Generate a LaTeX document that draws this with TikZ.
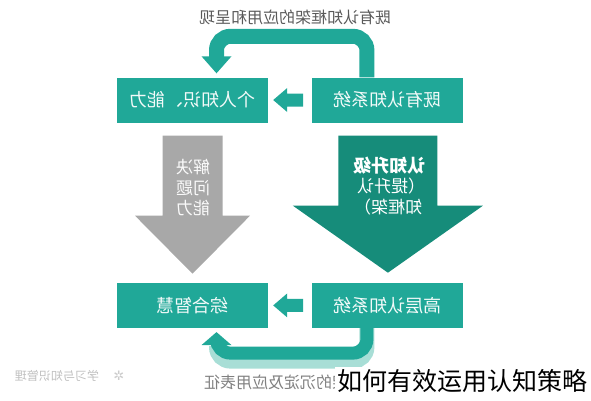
\documentclass[tikz,border=0pt]{standalone}
\usepackage{fontspec}
\setmainfont{Noto Sans CJK SC}
\newfontfamily\symfont{DejaVu Sans}
\usetikzlibrary{positioning,calc}
\definecolor{boxteal}{RGB}{32,168,152}
\definecolor{deepteal}{RGB}{22,140,122}
\definecolor{shadeteal}{RGB}{168,222,214}
\definecolor{arrowgray}{RGB}{168,168,168}
\newcommand{\flip}[1]{\scalebox{-1}[1]{#1}}

\begin{document}
\begin{tikzpicture}[x=1pt,y=-1pt, every node/.style={inner sep=0pt},
  box/.style={fill=boxteal,minimum width=151pt,minimum height=45pt,text=white!94!boxteal,font=\fontsize{18}{20}\selectfont},
  caption/.style={font=\fontsize{16}{18}\selectfont}]
\useasboundingbox (0,0) rectangle (591,400);
\node[box] (know) at (192.5,100) {\flip{个人知识、能力}};
\node[box,right=44pt of know] (oldsys) {\flip{既有认知系统}};
\node[box,below=160pt of know] (wisdom) {\flip{综合智慧}};
\node[box,right=44pt of wisdom] (highsys) {\flip{高层认知系统}};
\node[caption,text=black!65] (toptext) at (295,17) {\flip{既有认知框架的应用和呈现}};
\node[caption,text=black!50] (bottext) at (300,382) {\flip{认知框架的沉淀及应用表征}};
\fill[boxteal] ($(oldsys.west)+(-9,-6.5)$) -- ++(-16,0) -- ++(0,-5.5) -- ++(-14,12) -- ++(14,12) -- ++(0,-5.5) -- ++(16,0) -- cycle;
\fill[boxteal] ($(highsys.west)+(-9,-6.5)$) -- ++(-16,0) -- ++(0,-5.5) -- ++(-14,12) -- ++(14,12) -- ++(0,-5.5) -- ++(16,0) -- cycle;
\fill[arrowgray] ($(know.south)+(-30,13)$) -- ($(know.south)+(30,13)$) -- ($(know.south)+(30,93)$) -- ($(know.south)+(57.5,93)$) -- ($(know.south)+(0,151)$) -- ($(know.south)+(-57.5,93)$) -- ($(know.south)+(-30,93)$) -- cycle;
\fill[deepteal] ($(oldsys.south)+(-49.5,13)$) -- ($(oldsys.south)+(49.5,13)$) -- ($(oldsys.south)+(49.5,83)$) -- ($(oldsys.south)+(95,83)$) -- ($(oldsys.south)+(0,150)$) -- ($(oldsys.south)+(-95,83)$) -- ($(oldsys.south)+(-49.5,83)$) -- cycle;
\node[text=white!94!arrowgray,font=\fontsize{17}{20}\selectfont,align=center] (solve) at (193,190) {\flip{\begin{tabular}{@{}c@{}}解决\\问题\\能力\end{tabular}}};
\node[text=white,font=\fontsize{17}{19}\selectfont] (upgrade) at (389,188) {\flip{\begin{tabular}{@{}l@{}}\textbf{\fontsize{18}{19}\selectfont 认知升级}\\（提升认\\\,知框架）\end{tabular}}};
\draw[boxteal,line width=15pt,rounded corners=14pt] ($(oldsys.north)+(-21,0)$) -- ++(0,-41) -| ($(know.north)+(24,-20)$);
\fill[boxteal] ($(know.north)+(9,-21)$) -- ++(30,0) -- ($(know.north)+(24,-4)$) -- cycle;
\draw[shadeteal,line width=15pt,rounded corners=14pt] ($(highsys.south)+(-21,0)$) -- ++(0,33) -| ($(wisdom.south)+(24,18)$);
\draw[boxteal,line width=13pt,rounded corners=14pt] ($(highsys.south)+(-21,0)$) -- ++(0,25) -| ($(wisdom.south)+(24,16)$);
\fill[boxteal] ($(wisdom.south)+(9,17)$) -- ++(30,0) -- ($(wisdom.south)+(24,4)$) -- cycle;
\node[text=black!25,font=\fontsize{12}{14}\selectfont] (wmark) at (57,376) {\flip{学习与知识管理}};
\node[text=black!20,font=\symfont\fontsize{13}{14}\selectfont,right=14pt of wmark] (wlogo) {✲};
\node[fill=white,inner sep=2pt,font=\fontsize{25}{28}\selectfont] (title) at (462,381) {如何有效运用认知策略};
\end{tikzpicture}
\end{document}
